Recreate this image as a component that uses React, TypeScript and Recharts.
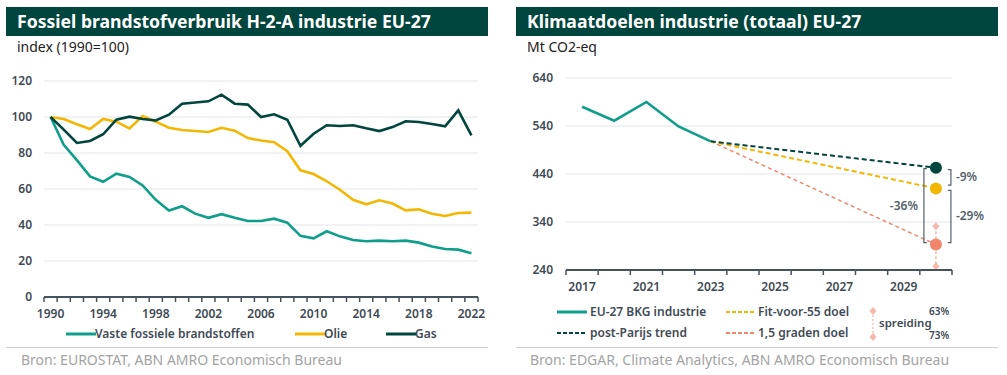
import React from "react";
import {
  LineChart,
  Line,
  XAxis,
  YAxis,
  CartesianGrid,
  ReferenceLine,
} from "recharts";

// left panel: index 1990=100
const YEARS = Array.from({ length: 33 }, (_, i) => String(1990 + i));
const VASTE = [
  100, 84.6, 76, 67, 64, 68.5, 66.7, 62, 54, 48, 50.4, 46.3, 44, 46, 44, 42.2, 42.2,
  43.5, 41.3, 34, 32.6, 36.5, 33.7, 31.7, 31, 31.3, 31, 31.3, 30.2, 28, 26.7, 26.3, 24.3,
];
const OLIE = [
  100, 98.9, 96, 93.3, 98.9, 97.4, 93.7, 100.5, 97.4, 94, 92.8, 92.2, 91.7, 94, 92.4,
  88.3, 86.9, 86, 81, 70.4, 68.3, 64.3, 59.6, 54, 51.5, 53.7, 51.9, 48.1, 48.7, 46.3, 45,
  46.7, 46.9,
];
const GAS = [
  100, 93, 85.6, 86.7, 90.4, 98.5, 100.2, 98.9, 98.1, 101.3, 107.4, 108.1, 108.7, 112.4,
  107.4, 106.9, 100, 101.5, 98.5, 84, 90.7, 95.4, 95, 95.4, 93.7, 92.2, 94.4, 97.6, 97.2,
  96.1, 94.8, 103.7, 89.8,
];
const LEFT_TICKS = [0, 20, 40, 60, 80, 100, 120];

// right panel: Mt CO2-eq
const PERIODS = ["2017", "2019", "2021", "2022", "2023", "2024", "2025", "2026", "2027", "2028", "2029", "2030"];
const BKG = [580, 551, 590, 539, 508, null, null, null, null, null, null, null];
const POST_PARIJS = [null, null, null, null, 508, null, null, null, null, null, null, 453];
const FIT55 = [null, null, null, null, 508, null, null, null, null, null, null, 410];
const GRADEN = [null, null, null, null, 508, null, null, null, null, null, null, 293];
const SPREIDING = [331, 248];
const RIGHT_TICKS = [240, 340, 440, 540, 640];

const leftData = YEARS.map((year, i) => ({ year, vaste: VASTE[i], olie: OLIE[i], gas: GAS[i] }));
const rightData = PERIODS.map((p, i) => ({
  p,
  bkg: BKG[i],
  post: POST_PARIJS[i],
  fit: FIT55[i],
  graden: GRADEN[i],
}));

const FONT = "'Noto Sans', 'DejaVu Sans', sans-serif";
const DARK = "#00453e";
const TEAL = "#0f9e8c";
const YELLOW = "#f2b705";
const SALMON = "#f2866c";
const SALMON_LIGHT = "#f6b8a8";
const AXIS = "#46525c";
const TICK_TEXT = "#3f4a54";
const GRID = "#e1e5e8";

const tickStyle = { fontSize: 12, fontWeight: 600, fill: TICK_TEXT, fontFamily: FONT };

// excel-style tick: marks between categories, label only every n-th
const betweenTick = (step: number, every: number, count: number) => (props: any) => {
  const { x, y, payload } = props;
  const i = payload.index;
  return (
    <g>
      <line x1={x - step / 2} x2={x - step / 2} y1={y} y2={y + 5} stroke={AXIS} strokeWidth={1.5} />
      {i === count - 1 && (
        <line x1={x + step / 2} x2={x + step / 2} y1={y} y2={y + 5} stroke={AXIS} strokeWidth={1.5} />
      )}
      {i % every === 0 && (
        <text x={x} y={y + 21} textAnchor="middle" {...tickStyle}>
          {payload.value}
        </text>
      )}
    </g>
  );
};

const lastDot = (color: string) => (p: any) =>
  p.index === PERIODS.length - 1 && p.value != null ? (
    <circle key={`d${p.index}`} cx={p.cx} cy={p.cy} r={6} fill={color} />
  ) : (
    <g key={`d${p.index}`} />
  );

const bracket = (side: "left" | "right", dx: number, label: string, labelDx: number) => (p: any) => {
  const x = p.x1 + dx;
  const w = side === "right" ? -3 : 3;
  const ymid = (p.y1 + p.y2) / 2;
  return (
    <g>
      <path
        d={`M${x + w},${p.y1} H${x} V${p.y2} H${x + w}`}
        fill="none"
        stroke="#56616a"
        strokeWidth={1.2}
      />
      <text
        x={x + labelDx}
        y={ymid + 4}
        textAnchor={side === "right" ? "start" : "end"}
        fontSize={12}
        fontWeight={600}
        fill="#56616a"
        fontFamily={FONT}
      >
        {label}
      </text>
    </g>
  );
};

const spreidingShape = (p: any) => {
  const d = (cx: number, cy: number) => `M${cx},${cy - 4} L${cx + 3.5},${cy} L${cx},${cy + 4} L${cx - 3.5},${cy} Z`;
  return (
    <g>
      <line x1={p.x1} x2={p.x2} y1={p.y1} y2={p.y2} stroke={SALMON_LIGHT} strokeWidth={1.5} strokeDasharray="3 2" />
      <path d={d(p.x1, p.y1)} fill={SALMON_LIGHT} />
      <path d={d(p.x2, p.y2)} fill={SALMON_LIGHT} />
    </g>
  );
};

const TitleBar = ({ left, text }: { left: number; text: string }) => (
  <div
    style={{
      position: "absolute",
      left,
      top: 7,
      width: 482,
      height: 29,
      background: DARK,
      color: "#fff",
      fontWeight: 700,
      fontSize: 17.6,
      lineHeight: "29px",
      paddingLeft: 11,
      boxSizing: "border-box",
      whiteSpace: "nowrap",
    }}
  >
    {text}
  </div>
);

const Abs = ({ left, top, children, style }: any) => (
  <div style={{ position: "absolute", left, top, whiteSpace: "nowrap", ...style }}>{children}</div>
);

const LegendLine = ({ left, top, color, dashed }: any) => (
  <svg style={{ position: "absolute", left, top: top - 2 }} width={30} height={4}>
    <line
      x1={0}
      x2={30}
      y1={2}
      y2={2}
      stroke={color}
      strokeWidth={dashed ? 1.8 : 3}
      strokeDasharray={dashed ? "4 2" : undefined}
    />
  </svg>
);

const legendText = { fontSize: 12, fontWeight: 600, color: TICK_TEXT, lineHeight: "16px" };
const sourceText = { fontSize: 14, color: "#a3a3a3", lineHeight: "16px" };

const L_STEP = 434 / 33;
const R_STEP = 386 / 12;

export default function App() {
  return (
    <div
      style={{
        position: "absolute",
        left: 0,
        top: 0,
        width: 1007,
        height: 375,
        background: "#fff",
        fontFamily: FONT,
        overflow: "hidden",
      }}
    >
      <TitleBar left={6} text="Fossiel brandstofverbruik H-2-A industrie EU-27" />
      <TitleBar left={516} text="Klimaatdoelen industrie (totaal) EU-27" />
      <Abs left={17} top={38} style={{ fontSize: 14, color: "#222", lineHeight: "18px" }}>
        index (1990=100)
      </Abs>
      <Abs left={527} top={38} style={{ fontSize: 14, color: "#222", lineHeight: "18px" }}>
        Mt CO2-eq
      </Abs>

      {/* left chart */}
      <div style={{ position: "absolute", left: 0, top: 0 }}>
        <LineChart
          width={500}
          height={330}
          data={leftData}
          margin={{ top: 81, right: 22, left: 10, bottom: 8 }}
        >
          <CartesianGrid vertical={false} stroke={GRID} strokeWidth={1} />
          <XAxis
            dataKey="year"
            padding={{ left: L_STEP / 2, right: L_STEP / 2 }}
            interval={0}
            height={25}
            tickSize={0}
            tickMargin={0}
            tickLine={false}
            axisLine={{ stroke: AXIS, strokeWidth: 2 }}
            tick={betweenTick(L_STEP, 4, YEARS.length)}
          />
          <YAxis
            domain={[0, 120]}
            ticks={LEFT_TICKS}
            width={34}
            axisLine={false}
            tickLine={false}
            tickSize={0}
            tickMargin={12}
            tick={tickStyle}
          />
          <Line dataKey="vaste" stroke={TEAL} strokeWidth={2.6} dot={false} isAnimationActive={false} />
          <Line dataKey="olie" stroke={YELLOW} strokeWidth={2.6} dot={false} isAnimationActive={false} />
          <Line dataKey="gas" stroke={DARK} strokeWidth={2.6} dot={false} isAnimationActive={false} />
        </LineChart>
      </div>

      <LegendLine left={66} top={334} color={TEAL} />
      <Abs left={95} top={326} style={legendText}>Vaste fossiele brandstoffen</Abs>
      <LegendLine left={295} top={334} color={YELLOW} />
      <Abs left={324} top={326} style={legendText}>Olie</Abs>
      <LegendLine left={386} top={334} color={DARK} />
      <Abs left={415} top={326} style={legendText}>Gas</Abs>

      {/* right chart */}
      <div style={{ position: "absolute", left: 510, top: 0 }}>
        <LineChart
          width={497}
          height={305}
          data={rightData}
          margin={{ top: 78, right: 55, left: 10, bottom: 8 }}
        >
          <CartesianGrid vertical={false} stroke={GRID} strokeWidth={1} />
          <XAxis
            dataKey="p"
            padding={{ left: R_STEP / 2, right: R_STEP / 2 }}
            interval={0}
            height={27}
            tickSize={0}
            tickMargin={0}
            tickLine={false}
            axisLine={{ stroke: AXIS, strokeWidth: 2 }}
            tick={betweenTick(R_STEP, 2, PERIODS.length)}
          />
          <YAxis
            domain={[240, 640]}
            ticks={RIGHT_TICKS}
            width={46}
            axisLine={false}
            tickLine={false}
            tickSize={0}
            tickMargin={13}
            tick={tickStyle}
          />
          <ReferenceLine
            segment={[
              { x: "2030", y: SPREIDING[0] },
              { x: "2030", y: SPREIDING[1] },
            ]}
            shape={spreidingShape}
          />
          <Line dataKey="bkg" stroke={TEAL} strokeWidth={2.6} dot={false} isAnimationActive={false} />
          <Line
            dataKey="graden"
            stroke={SALMON}
            strokeWidth={1.5}
            strokeDasharray="4 3"
            connectNulls
            dot={lastDot(SALMON)}
            isAnimationActive={false}
          />
          <Line
            dataKey="fit"
            stroke={YELLOW}
            strokeWidth={2}
            strokeDasharray="5 3"
            connectNulls
            dot={lastDot(YELLOW)}
            isAnimationActive={false}
          />
          <Line
            dataKey="post"
            stroke={DARK}
            strokeWidth={2}
            strokeDasharray="5 3"
            connectNulls
            dot={lastDot(DARK)}
            isAnimationActive={false}
          />
          <ReferenceLine
            segment={[
              { x: "2030", y: 449 },
              { x: "2030", y: 417 },
            ]}
            shape={bracket("right", 15, "-9%", 5)}
          />
          <ReferenceLine
            segment={[
              { x: "2030", y: 406 },
              { x: "2030", y: 297 },
            ]}
            shape={bracket("right", 15, "-29%", 5)}
          />
          <ReferenceLine
            segment={[
              { x: "2030", y: 451 },
              { x: "2030", y: 297 },
            ]}
            shape={bracket("left", -12, "-36%", -6)}
          />
        </LineChart>
      </div>

      <LegendLine left={557} top={312} color={TEAL} />
      <Abs left={590} top={304} style={legendText}>EU-27 BKG industrie</Abs>
      <LegendLine left={557} top={333} color={DARK} dashed />
      <Abs left={590} top={325} style={legendText}>post-Parijs trend</Abs>
      <LegendLine left={726} top={312} color={YELLOW} dashed />
      <Abs left={758} top={304} style={legendText}>Fit-voor-55 doel</Abs>
      <LegendLine left={726} top={333} color={SALMON} dashed />
      <Abs left={758} top={325} style={legendText}>1,5 graden doel</Abs>
      <svg style={{ position: "absolute", left: 868, top: 307 }} width={10} height={34}>
        <line x1={5} x2={5} y1={4} y2={30} stroke={SALMON_LIGHT} strokeWidth={1.2} strokeDasharray="2 2" />
        <path d="M5,0 L8.5,4 L5,8 L1.5,4 Z" fill={SALMON_LIGHT} />
        <path d="M5,26 L8.5,30 L5,34 L1.5,30 Z" fill={SALMON_LIGHT} />
      </svg>
      <Abs left={879} top={316} style={{ ...legendText, fontSize: 11.5, lineHeight: "14px" }}>spreiding</Abs>
      <Abs left={929} top={305} style={{ ...legendText, fontSize: 10, lineHeight: "12px" }}>63%</Abs>
      <Abs left={929} top={329} style={{ ...legendText, fontSize: 10, lineHeight: "12px" }}>73%</Abs>

      <div style={{ position: "absolute", left: 6, top: 347, width: 482, height: 1, background: "#cfcfcf" }} />
      <div style={{ position: "absolute", left: 516, top: 347, width: 482, height: 1, background: "#cfcfcf" }} />
      <Abs left={21} top={352} style={sourceText}>Bron: EUROSTAT, ABN AMRO Economisch Bureau</Abs>
      <Abs left={530} top={352} style={sourceText}>Bron: EDGAR, Climate Analytics, ABN AMRO Economisch Bureau</Abs>
    </div>
  );
}
